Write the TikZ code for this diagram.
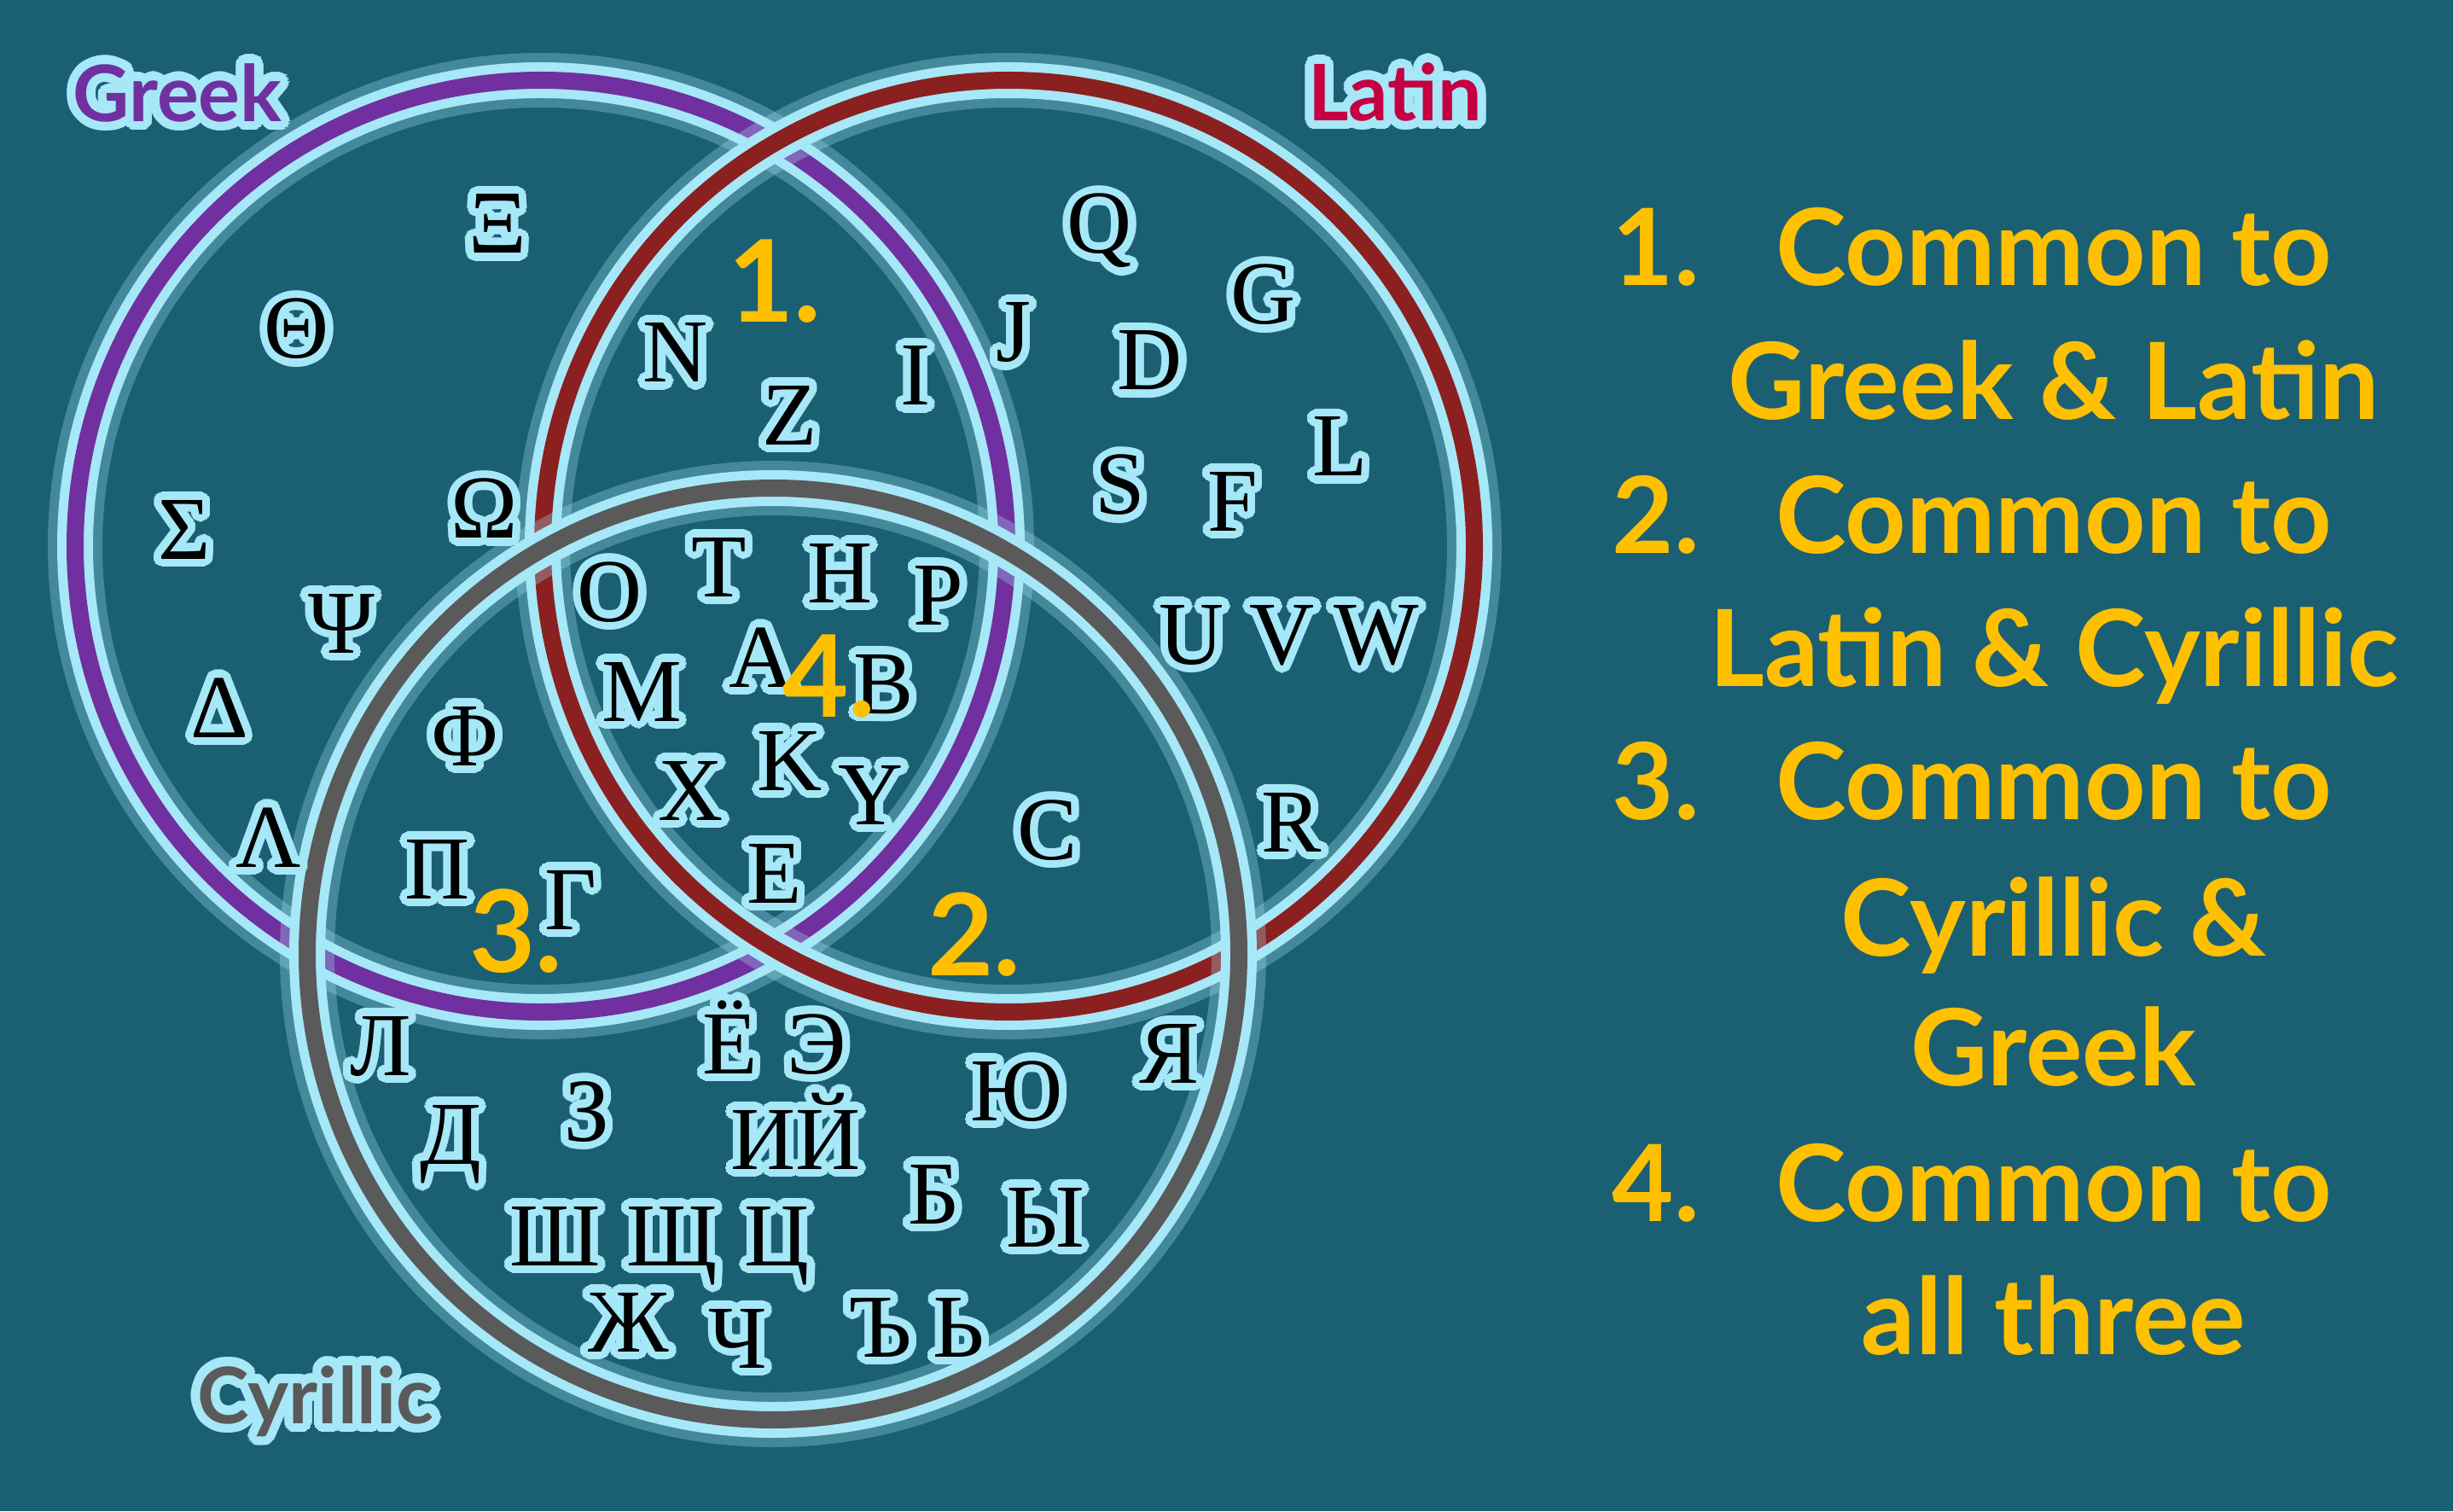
\documentclass[tikz,border=0pt]{standalone}
\usepackage{fontspec}
\usepackage[copies]{contour}
\newfontfamily\glyphfont{Liberation Serif}
\newfontfamily\legendfont{Lato}
\definecolor{bgteal}{RGB}{27,95,115}
\definecolor{glowc}{RGB}{166,232,248}
\definecolor{greekc}{RGB}{112,48,160}
\definecolor{latinc}{RGB}{139,32,32}
\definecolor{latintitle}{RGB}{196,0,66}
\definecolor{cyrc}{RGB}{90,90,90}
\definecolor{yellowc}{RGB}{255,192,0}
\contournumber{24}
\contourlength{2.6pt}
\tikzset{
  letter/.style={font=\glyphfont\fontsize{30}{30}\selectfont,inner sep=0pt,
    text height=.70cm,text depth=0pt},
  regionnum/.style={font=\legendfont\bfseries\fontsize{38}{38}\selectfont,
    text=yellowc,inner sep=0pt,text height=.96cm,text depth=0pt},
  legendline/.style={font=\legendfont\bfseries\fontsize{35.5}{35.5}\selectfont,
    text=yellowc,inner sep=0pt,anchor=base},
  settitle/.style={font=\legendfont\bfseries\fontsize{26}{26}\selectfont,inner sep=0pt},
}
\begin{document}
\begin{tikzpicture}
    \fill[bgteal] (0,0) rectangle (28.75,17.71);
    \useasboundingbox (0,0) rectangle (28.75,17.71);
    \coordinate (grk) at (6.34,11.31);
    \coordinate (lat) at (11.82,11.31);
    \coordinate (cyr) at (9.06,6.53);
    % the three rings, each with its glow
    \foreach \c/\col in {grk/greekc,lat/latinc,cyr/cyrc} {
        \draw[glowc,opacity=.3,line width=.64cm] (\c) circle (5.46);
        \draw[glowc,line width=.42cm] (\c) circle (5.46);
        \draw[\col,line width=.20cm] (\c) circle (5.46);
    }
    % letters
    \foreach \x/\y/\ch [count=\i] in {
        5.83/15.09/Ξ, 3.48/13.86/Θ, 2.16/11.51/Σ, 5.68/11.75/Ω, 4.00/10.41/Ψ,
        2.57/9.42/Δ, 5.45/9.09/Φ, 3.15/7.90/Λ, 5.13/7.53/Π, 6.69/7.17/Γ,
        7.92/13.58/N, 9.26/12.85/Z, 10.73/13.31/I,
        12.89/15.09/Q, 11.88/13.82/J, 14.81/14.26/G, 13.48/13.49/D,
        15.71/12.48/L, 13.13/12.03/S, 14.45/11.84/F, 13.97/10.28/U,
        15.03/10.28/V, 16.13/10.28/W, 15.14/8.08/R, 12.28/7.99/C,
        7.15/10.78/O, 8.43/11.07/T, 9.85/11.00/H, 11.00/10.74/P,
        7.52/9.61/M, 8.93/10.01/A, 10.36/9.70/B, 8.10/8.45/X,
        9.26/8.80/K, 10.21/8.40/Y, 9.08/7.48/E,
        4.46/5.46/Л, 5.28/4.42/Д, 6.88/4.69/З, 8.56/5.48/Ё, 9.57/5.48/Э,
        9.33/4.36/ИЙ, 11.92/4.93/Ю, 13.71/5.37/Я, 6.51/3.23/Ш,
        7.88/3.23/Щ, 9.11/3.23/Ц, 10.95/3.72/Б, 12.25/3.45/Ы,
        7.37/2.22/Ж, 8.65/2.03/Ч, 10.32/2.16/Ъ, 11.24/2.16/Ь}
        \node[letter] (ltr\i) at (\x,\y) {\contour{glowc}{\ch}};
    % region numbers
    \node[regionnum] (reg1) at (9.08,14.41) {1.};
    \node[regionnum] (reg2) at (11.42,6.76) {2.};
    \node[regionnum] (reg3) at (6.05,6.80) {3.};
    \node[regionnum] (reg4) at (9.72,9.79) {4.};
    % set titles
    \contourlength{3pt}
    \node[settitle,text=greekc] (tgreek) at (2.08,16.57) {\contour{glowc}{Greek}};
    \node[settitle,text=latintitle] (tlatin) at (16.35,16.58) {\contour{glowc}{Latin}};
    \node[settitle,text=cyrc] (tcyr) at (3.70,1.24) {\contour{glowc}{Cyrillic}};
    % legend
    \node[legendline,anchor=base west] (num1) at (18.89,14.36) {1.};
    \node[legendline] (leg1a) at (24.07,14.36) {Common to};
    \node[legendline] (leg1b) at (24.07,12.80) {Greek \& Latin};
    \node[legendline,anchor=base west] (num2) at (18.89,11.23) {2.};
    \node[legendline] (leg2a) at (24.07,11.23) {Common to};
    \node[legendline] (leg2b) at (24.07,9.67) {Latin \& Cyrillic};
    \node[legendline,anchor=base west] (num3) at (18.89,8.11) {3.};
    \node[legendline] (leg3a) at (24.07,8.11) {Common to};
    \node[legendline] (leg3b) at (24.07,6.51) {Cyrillic \&};
    \node[legendline] (leg3c) at (24.07,4.99) {Greek};
    \node[legendline,anchor=base west] (num4) at (18.89,3.40) {4.};
    \node[legendline] (leg4a) at (24.07,3.40) {Common to};
    \node[legendline] (leg4b) at (24.07,1.84) {all three};
\end{tikzpicture}
\end{document}
